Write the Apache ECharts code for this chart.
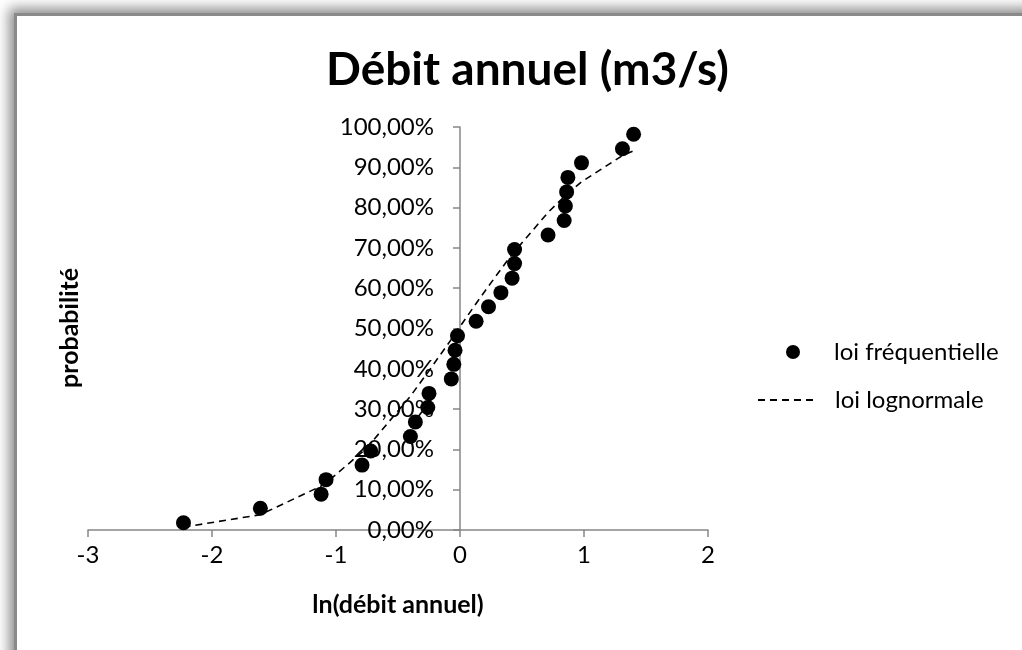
<!DOCTYPE html>
<html>
<head>
<meta charset="utf-8">
<script src="https://cdn.jsdelivr.net/npm/echarts@6/dist/echarts.min.js"></script>
<style>
  html, body { margin: 0; padding: 0; background: #fff; width: 1022px; height: 650px; overflow: hidden; }
  #frame { position: absolute; left: 14px; top: 13px; width: 1100px; height: 800px;
           border: 3px solid #8a8a8a; box-shadow: -3px -3px 12px 2px rgba(0,0,0,0.45); background: #fff; }
  #main { position: absolute; left: 0; top: 0; width: 1022px; height: 650px; }
</style>
</head>
<body>
<div id="frame"></div>
<div id="main"></div>
<script>
// ln(débit annuel) for each year, sorted
const lnQ = [-2.23, -1.61, -1.12, -1.08, -0.79, -0.72, -0.40, -0.36, -0.26, -0.25,
             -0.07, -0.05, -0.04, -0.02, 0.13, 0.23, 0.33, 0.42, 0.44, 0.44,
             0.71, 0.84, 0.85, 0.86, 0.87, 0.98, 1.31, 1.40];
// loi fréquentielle (%)
const freqP = [1.8, 5.4, 8.9, 12.5, 16.1, 19.6, 23.2, 26.8, 30.4, 33.9,
               37.5, 41.1, 44.6, 48.2, 51.8, 55.4, 58.9, 62.5, 66.1, 69.6,
               73.2, 76.8, 80.4, 83.9, 87.5, 91.1, 94.6, 98.2];
// loi lognormale (%)
const lognP = [0.7, 3.8, 10.9, 11.7, 19.3, 21.5, 33.2, 34.9, 39.1, 39.5,
               47.3, 48.2, 48.7, 49.6, 56.2, 60.5, 64.7, 68.4, 69.1, 69.1,
               78.8, 82.7, 83.0, 83.3, 83.6, 86.4, 92.9, 94.1];
const xTicks = { min: -3, max: 2, interval: 1 };
const yTicks = { min: 0, max: 100, interval: 10 };
const seriesNames = ['loi fréquentielle', 'loi lognormale'];
const titleText = 'Débit annuel (m3/s)';
const xName = 'ln(débit annuel)';
const yName = 'probabilité';

const FONT = 'Lato';
const GRID = { left: 88, right: 314, top: 127, bottom: 120 };
const chart = echarts.init(document.getElementById('main'), null, { renderer: 'canvas' });
// y axis crosses the x axis at x = 0: shift it from the grid's left edge to that point
const plotW = 1022 - GRID.left - GRID.right;
const yAxisShift = -plotW * (0 - xTicks.min) / (xTicks.max - xTicks.min);

chart.setOption({
  backgroundColor: 'transparent',
  animation: false,
  textStyle: { fontFamily: FONT },
  title: {
    text: titleText, left: 321, top: 42,
    textStyle: { fontFamily: FONT, fontWeight: 'bold', fontSize: 46, color: '#000' }
  },
  grid: Object.assign({ containLabel: false, outerBoundsMode: 'none' }, GRID),
  legend: [
    { data: [seriesNames[0]], left: 781, top: 335, padding: 5, itemWidth: 14, itemHeight: 14,
      textStyle: { fontFamily: FONT, fontSize: 24, color: '#000', padding: [0, 0, 0, 29] } },
    { data: [seriesNames[1]], left: 752, top: 383, padding: 5, itemWidth: 58, itemHeight: 14,
      itemStyle: { opacity: 0 },
      textStyle: { fontFamily: FONT, fontSize: 24, color: '#000', padding: [0, 0, 0, 14] } }
  ],
  xAxis: {
    type: 'value', min: xTicks.min, max: xTicks.max, interval: xTicks.interval,
    name: xName, nameLocation: 'middle', nameGap: 62,
    nameTextStyle: { fontFamily: FONT, fontWeight: 'bold', fontSize: 25, color: '#000' },
    axisLine: { onZero: true, lineStyle: { color: '#868686', width: 1.5 } },
    axisTick: { show: true, inside: false, length: 7, lineStyle: { color: '#868686', width: 1.5 } },
    axisLabel: { fontFamily: FONT, fontSize: 24, color: '#000', margin: 13 },
    splitLine: { show: false }
  },
  yAxis: {
    type: 'value', min: yTicks.min, max: yTicks.max, interval: yTicks.interval,
    offset: yAxisShift,
    axisLine: { show: true, onZero: false, lineStyle: { color: '#868686', width: 1.5 } },
    axisTick: { show: true, inside: false, length: 7, lineStyle: { color: '#868686', width: 1.5 } },
    axisLabel: { fontFamily: FONT, fontSize: 24, color: '#000', margin: 26,
      formatter: v => v.toFixed(2).replace('.', ',') + '%' },
    splitLine: { show: false }
  },
  graphic: [{
    type: 'text', x: 70, y: 328, rotation: Math.PI / 2,
    style: { text: yName, fontFamily: FONT, fontWeight: 'bold', fontSize: 25, fill: '#000',
             align: 'center', verticalAlign: 'middle' }
  }],
  series: [
    {
      name: seriesNames[1], type: 'line', z: 2,
      data: lnQ.map((x, i) => [x, lognP[i]]),
      symbol: 'none', showSymbol: false,
      lineStyle: { color: '#000', width: 1.6, type: [7, 5] },
      itemStyle: { color: '#000' }
    },
    {
      name: seriesNames[0], type: 'scatter', z: 3,
      data: lnQ.map((x, i) => [x, freqP[i]]),
      symbol: 'circle', symbolSize: 15,
      itemStyle: { color: '#000', opacity: 1 }
    }
  ]
});
</script>
</body>
</html>
